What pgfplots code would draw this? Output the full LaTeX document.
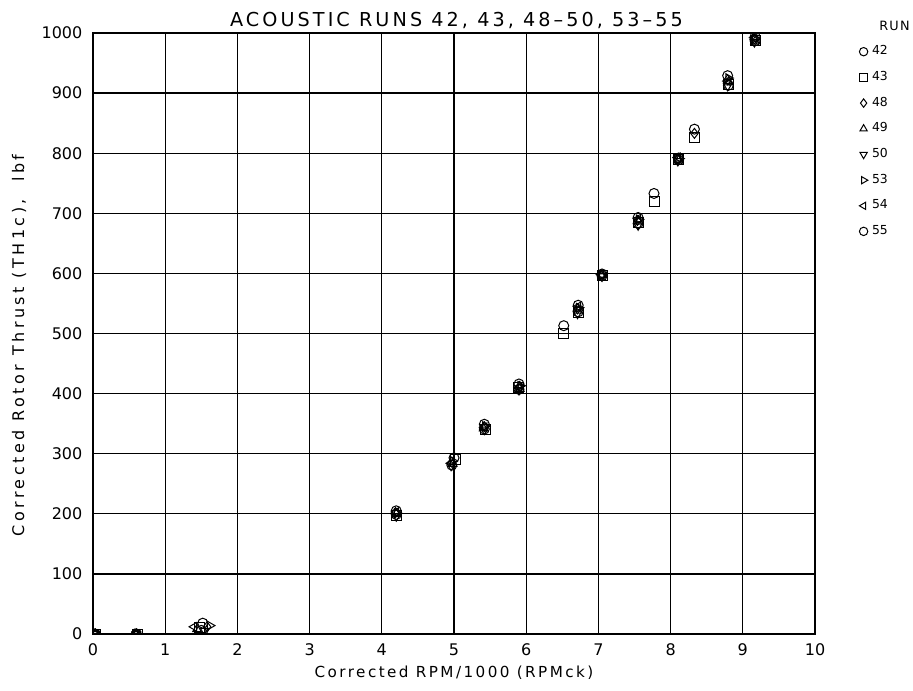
\documentclass[border=0pt]{standalone}
\usepackage{pgfplots}
\pgfplotsset{compat=1.18}
\usepackage{fontspec}
\setmainfont{DejaVu Sans}
\newfontfamily\titlefont[LetterSpace=16]{DejaVu Sans}
\newfontfamily\xlabfont[LetterSpace=16]{DejaVu Sans}
\newfontfamily\ylabfont[LetterSpace=22]{DejaVu Sans}
\newfontfamily\runfont[LetterSpace=10]{DejaVu Sans}

\begin{document}
\begin{tikzpicture}
\useasboundingbox (-46.5pt,-28pt) rectangle (410pt,317pt);
\begin{axis}[
  name=ax,
  at={(0,0)}, anchor=south west,
  scale only axis, width=361pt, height=300.5pt,
  xmin=0, xmax=10, ymin=0, ymax=1000,
  xtick={0,1,...,10}, ytick={0,100,...,1000},
  grid=major, grid style={black, line width=0.6pt},
  axis line style={line width=0.7pt},
  major tick length=0pt,
  clip marker paths=true,
  /pgf/number format/assume math mode=true,
  /pgf/number format/1000 sep={},
  tick label style={font=\fontsize{8}{9}\selectfont},
  xticklabel style={yshift=-1.4pt},
  yticklabel style={xshift=-1.8pt},
  xlabel={\xlabfont Corrected RPM/1000 (RPMck)},
  xlabel style={at={(axis description cs:0.5,-0.0732)}, anchor=base, font=\fontsize{7.6}{9}\selectfont},
  ylabel={\ylabfont Corrected Rotor Thrust (TH1c),\ \ lbf},
  ylabel style={at={(axis description cs:-0.1025,0.48)}, anchor=center, font=\fontsize{8}{9}\selectfont},
  every axis plot/.append style={only marks, black, mark size=2.5pt, line width=0.5pt},
  every axis plot post/.append style={legend image code/.code={\draw[##1, mark size=2.1pt] plot coordinates {(0pt,0pt)};}},
  legend style={draw=none, fill=none, at={(axis description cs:1,1)}, anchor=north west,
    xshift=22pt, yshift=-5.5pt, inner sep=0pt, row sep=5.55pt,
    font=\fontsize{6.2}{7}\selectfont, nodes={inner sep=0.6pt},
    /tikz/every odd column/.style={column sep=1.5pt}},
  legend cell align=left,
]
% RUN 42
\addplot[mark=o] coordinates {(0.03,0)(0.6,0)(1.52,18)(4.2,205)(5.0,293)(5.42,349)(5.9,416)(6.52,513)(6.72,547)(7.05,599)(7.55,693)(7.77,733)(8.11,792)(8.33,840)(8.79,929)(9.17,994)};
\addlegendentry{42}
% RUN 43
\addplot[mark=square] coordinates {(0.03,0)(0.62,0)(1.47,10)(4.2,198)(5.02,290)(5.43,340)(5.9,410)(6.52,500)(6.72,535)(7.05,597)(7.55,684)(7.77,719)(8.11,789)(8.33,826)(8.8,915)(9.17,988)};
\addlegendentry{43}
% RUN 48
\addplot[mark=diamond] coordinates {(0.03,0)(0.58,0)(1.58,12)(4.19,202)(4.97,286)(5.42,345)(5.91,412)(6.71,541)(7.04,596)(7.54,688)(8.1,790)(8.33,833)(8.79,922)(9.16,990)};
\addlegendentry{48}
% RUN 49
\addplot[mark=triangle] coordinates {(0.03,0)(0.6,0)(1.44,8)(4.2,200)(4.98,283)(5.41,342)(5.91,408)(6.72,538)(7.05,598)(7.56,686)(8.11,788)(8.8,918)(9.17,986)};
\addlegendentry{49}
% RUN 50
\addplot[mark=triangle, mark options={rotate=180}] coordinates {(0.03,0)(0.6,0)(1.55,5)(4.2,196)(4.96,280)(5.42,340)(5.9,406)(6.71,533)(7.05,595)(7.55,680)(8.1,787)(8.79,912)(9.16,985)};
\addlegendentry{50}
% RUN 53
\addplot[mark=triangle, mark options={rotate=-90}] coordinates {(0.03,0)(0.6,0)(1.62,14)(4.21,201)(4.98,288)(5.43,346)(5.92,413)(6.73,543)(7.05,597)(7.56,690)(8.12,791)(8.8,925)(9.17,991)};
\addlegendentry{53}
% RUN 54
\addplot[mark=triangle, mark options={rotate=90}] coordinates {(0.03,0)(0.6,0)(1.4,12)(4.2,203)(4.96,284)(5.42,344)(5.9,410)(6.72,545)(7.04,598)(7.55,691)(8.1,793)(8.79,920)(9.16,992)};
\addlegendentry{54}
% RUN 55
\addplot[mark=o] coordinates {(0.03,0)(0.6,0)(1.5,6)(4.2,199)(4.97,281)(5.42,341)(5.9,407)(6.72,536)(7.05,596)(7.55,683)(8.11,789)(8.8,913)(9.17,987)};
\addlegendentry{55}
\end{axis}
\node[font=\fontsize{9.6}{11}\selectfont, anchor=base] at ([xshift=1.25pt, yshift=3.1pt]ax.north) {\titlefont ACOUSTIC RUNS 42, 43, 48–50, 53–55};
\node[font=\fontsize{6.4}{7}\selectfont, anchor=center] at ([xshift=39.75pt, yshift=3.5pt]ax.north east) {\runfont RUN};
\end{tikzpicture}
\end{document}
